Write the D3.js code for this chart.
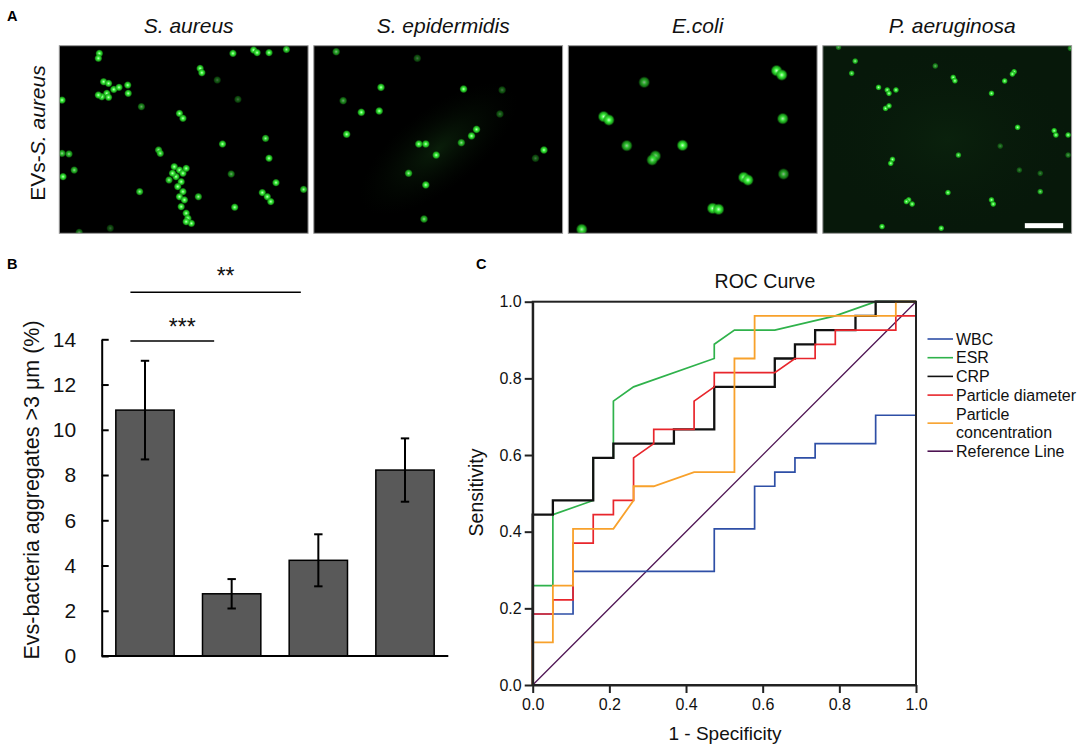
<!DOCTYPE html>
<html><head><meta charset="utf-8">
<script src="https://cdn.jsdelivr.net/npm/d3@7"></script>
<style>
body{margin:0;background:#fff}
svg{display:block;font-family:"Liberation Sans",Arial,Helvetica,sans-serif}
</style>
</head><body>
<svg id="c" width="1084" height="748"></svg>
<script>
// ---------------- DATA ----------------
// Panel A: fluorescence micrographs (dot positions in % of frame, intensity 0..1)
const species = ["S. aureus", "S. epidermidis", "E.coli", "P. aeruginosa"];
const dotsSAureus = [
  [16.1,4.1,1],[15.7,6.7,1],[69.8,4.1,1],[78.1,2.3,1],[79.5,3.7,1],[84.3,3.7,1],[91.3,2.0,0.9],
  [56.6,12.1,1],[57.3,14.4,1],[63.5,18.3,0.4],[17.8,19.2,1],[19.8,20.1,1],[21.9,23.3,1],[24.0,22.2,1],
  [19.1,25.4,1],[17.1,27.2,1],[15.7,26.3,1],[27.5,21.0,1],[27.7,25.4,1],[19.8,27.5,1],[1.1,29.0,1],
  [71.8,28.6,0.4],[33.0,32.5,0.6],[48.3,36.1,1],[49.7,38.7,1],[65.6,52.4,1],[82.9,49.4,0.9],
  [39.9,55.6,0.9],[40.6,57.4,0.9],[1.1,57.4,0.8],[3.9,57.7,0.8],[84.3,60.0,1],[1.5,69.8,1],[6.0,66.3,0.8],
  [69.1,68.4,0.6],[87.1,73.0,1],[98.2,76.6,0.9],[32.3,77.8,0.9],[81.6,78.3,1],[83.6,80.5,1],[85.0,83.1,1],
  [70.5,86.1,1],[55.9,80.5,0.9],[46.2,64.5,1],[48.3,66.3,1],[49.7,68.0,1],[51.0,65.4,1],[46.9,69.8,1],
  [49.0,72.5,1],[47.6,75.1,1],[49.7,77.8,1],[48.3,80.5,1],[50.3,82.2,1],[49.0,85.8,1],[51.0,89.3,1],
  [51.7,92.0,1],[53.1,94.7,1],[51.0,93.8,1],[44.1,71.6,0.9],[45.5,68.0,1],[20.5,97.3,0.35],[8.0,99.5,0.5]
];
const dotsSEpidermidis = [
  [9.0,3.2,0.7],[27.0,22.2,1],[19.1,35.5,1],[26.3,34.8,1],[11.8,29.3,0.6],[13.2,47.2,1],[60.2,23.1,1],
  [42.2,52.4,1],[45.0,52.4,1],[49.2,58.3,1],[38.1,68.0,0.9],[45.0,74.2,1],[44.3,92.4,0.8],[41.6,6.7,0.4],
  [59.3,51.7,0.8],[65.4,44.6,1],[63.4,48.1,1],[92.5,55.6,1],[75.7,23.6,0.4],[74.8,36.4,0.4],[89.1,60.0,0.4]
];
const dotsEColi = [
  [30.5,19.5,0.7],[83.7,13.3,1],[85.8,15.6,1],[14.2,37.8,1],[16.3,39.6,1],[86.2,38.9,0.9],[23.5,53.3,0.8],
  [45.9,53.1,1],[35.0,58.8,0.8],[33.7,60.9,0.8],[70.5,70.2,1],[72.2,71.6,1],[86.5,68.4,0.7],
  [58.0,86.7,1],[60.4,87.2,1],[5.4,97.9,0.9]
];
const dotsPAeruginosa = [
  [13.0,8.2,0.9],[11.6,14.7,0.9],[45.2,10.8,0.6],[22.4,22.2,1],[25.9,23.6,1],[26.6,25.4,1],[29.4,23.6,1],
  [25.2,33.4,1],[26.6,32.1,1],[52.4,16.9,1],[53.1,18.7,1],[76.9,13.9,1],[76.2,15.1,1],[73.1,18.8,1],
  [67.8,25.4,1],[78.3,43.5,1],[93.0,45.3,1],[93.7,47.6,1],[98.6,47.6,1],[98.6,58.3,0.5],[28.0,60.6,1],
  [27.3,62.7,1],[54.5,58.3,0.9],[71.3,53.5,0.4],[87.4,68.0,0.4],[79.0,66.3,0.4],[50.3,78.3,1],[87.4,77.8,0.8],
  [34.5,82.2,1],[35.9,84.4,1],[33.6,83.1,1],[67.8,82.2,1],[68.5,84.4,1],[23.8,96.4,1],[47.6,97.3,1],
  [6.3,0.8,0.6],[99.5,1.4,0.6]
];
const panelDots = [dotsSAureus, dotsSEpidermidis, dotsEColi, dotsPAeruginosa];
const rowLabel = ["EVs-", "S. aureus"];

// Panel B: bar chart
const barGroups = ["S. aureus", "S. epidermidis", "E.coli", "P. aeruginosa"];
const barValues = [10.87, 2.75, 4.23, 8.22];
const barSD = [2.18, 0.65, 1.15, 1.40];
const yTicksB = [0, 2, 4, 6, 8, 10, 12, 14];
const sigPairs = [[0, 1, "***"], [0, 2, "**"]];

// Panel C: ROC curves (counts: false positives out of 19, true positives out of 27)
const nNeg = 19, nPos = 27;
const rocNames = ["WBC", "ESR", "CRP", "Particle diameter", "Particle concentration", "Reference Line"];
const rocWBC = [[0,0],[0,5],[2,5],[2,8],[9,8],[9,11],[11,11],[11,14],[12,14],[12,15],[13,15],[13,16],[14,16],[14,17],[17,17],[17,19],[19,19],[19,27]];
const rocESR = [[0,0],[0,7],[1,7],[1,12],[3,13],[3,16],[4,16],[4,20],[5,21],[9,23],[9,24],[10,25],[12,25],[15,26],[17,27],[19,27]];
const rocCRP = [[0,0],[0,12],[1,12],[1,13],[3,13],[3,16],[4,16],[4,17],[7,17],[7,18],[9,18],[9,21],[12,21],[12,23],[13,23],[13,24],[14,24],[14,25],[16,25],[16,26],[17,26],[17,27],[19,27]];
const rocDiameter = [[0,0],[0,5],[1,5],[1,6],[2,6],[2,10],[3,10],[3,12],[4,12],[4,13],[5,13],[5,16],[6,17],[6,18],[8,18],[8,20],[9,21],[9,22],[12,22],[13,23],[14,23],[14,24],[15,24],[15,25],[18,25],[18,26],[19,26],[19,27]];
const rocConcentration = [[0,0],[0,3],[1,3],[1,7],[2,7],[2,11],[4,11],[5,13],[5,14],[6,14],[8,15],[10,15],[10,23],[11,23],[11,26],[18,26],[18,27],[19,27]];
const rocReference = [[0,0],[19,27]];
const rocTicks = [0, 0.2, 0.4, 0.6, 0.8, 1.0];

// ---------------- DRAW ----------------
const svg = d3.select("#c");
const FONT = '"Liberation Sans",Arial,Helvetica,sans-serif';
const defs = svg.append("defs");
const grad = defs.append("radialGradient").attr("id", "glow");
grad.append("stop").attr("offset", "0%").attr("stop-color", "#c8ffc8");
grad.append("stop").attr("offset", "35%").attr("stop-color", "#3cf03c");
grad.append("stop").attr("offset", "70%").attr("stop-color", "#1fb41f").attr("stop-opacity", 0.85);
grad.append("stop").attr("offset", "100%").attr("stop-color", "#0a500a").attr("stop-opacity", 0);
const haze = defs.append("radialGradient").attr("id", "haze");
haze.append("stop").attr("offset", "0%").attr("stop-color", "#1c5a1c").attr("stop-opacity", 0.55);
haze.append("stop").attr("offset", "100%").attr("stop-color", "#0a200a").attr("stop-opacity", 0);

// ----- Panel A -----
const imgTop = 45.7, imgH = 187.6;
const xPanel = d3.scaleBand().domain(species).range([59.3, 1071.6]).paddingInner(0.0225);
const bw = xPanel.bandwidth();
const dotR = [3.0, 3.1, 4.4, 2.4];
const bgCol = ["#000", "#000", "#000", "#07180a"];

svg.append("text").attr("x", 7).attr("y", 20.5).attr("font-weight", "bold")
  .attr("font-size", 14.5).text("A");

species.forEach((sp, i) => {
  const x0 = xPanel(sp);
  const g = svg.append("g").attr("transform", `translate(${x0},${imgTop})`);
  const sx = d3.scaleLinear().domain([0, 100]).range([0, bw]);
  const sy = d3.scaleLinear().domain([0, 100]).range([0, imgH]);
  const clipId = "clip" + i;
  defs.append("clipPath").attr("id", clipId).append("rect").attr("width", bw).attr("height", imgH);
  g.append("rect").attr("width", bw).attr("height", imgH).attr("fill", bgCol[i]);
  const inner = g.append("g").attr("clip-path", `url(#${clipId})`);
  if (i === 1) {
    inner.append("ellipse").attr("cx", sx(50)).attr("cy", sy(55)).attr("rx", 95).attr("ry", 40)
      .attr("transform", `rotate(-38 ${sx(50)} ${sy(55)})`).attr("fill", "url(#haze)").attr("opacity", 0.6);
  }
  if (i === 3) {
    inner.append("rect").attr("width", bw).attr("height", imgH).attr("fill", "url(#haze)").attr("opacity", 0.25);
  }
  inner.selectAll("circle").data(panelDots[i]).join("circle")
    .attr("cx", d => sx(d[0])).attr("cy", d => sy(d[1]))
    .attr("r", dotR[i] * 1.4)
    .attr("fill", "url(#glow)")
    .attr("opacity", d => d[2]);
  g.append("rect").attr("width", bw).attr("height", imgH).attr("fill", "none")
    .attr("stroke", "#9a9a9a").attr("stroke-width", 1);
  svg.append("text").attr("x", x0 + bw / 2 + 5).attr("y", 33)
    .attr("text-anchor", "middle").attr("font-style", "italic").attr("font-size", 21)
    .attr("fill", "#111").text(sp);
  if (i === 3) {
    g.append("rect").attr("x", sx(81.2)).attr("y", sy(94.6)).attr("width", sx(15.4)).attr("height", 5).attr("fill", "#fff");
  }
});
const rl = svg.append("text").attr("transform", "translate(45,133) rotate(-90)")
  .attr("text-anchor", "middle").attr("font-size", 21).attr("fill", "#111");
rl.append("tspan").text(rowLabel[0]);
rl.append("tspan").attr("font-style", "italic").text(rowLabel[1]);

// ----- Panel B -----
svg.append("text").attr("x", 7).attr("y", 269).attr("font-weight", "bold").attr("font-size", 14.5).text("B");
const xB = d3.scaleBand().domain(barGroups).range([101.7, 448.3]).paddingInner(0.327).paddingOuter(0.163);
const yB = d3.scaleLinear().domain([0, 14]).range([656, 339.3]);
const gB = svg.append("g");
gB.selectAll("rect.bar").data(barValues).join("rect").attr("class", "bar")
  .attr("x", (d, i) => xB(barGroups[i])).attr("width", xB.bandwidth())
  .attr("y", d => yB(d)).attr("height", d => yB(0) - yB(d))
  .attr("fill", "#595959").attr("stroke", "#000").attr("stroke-width", 1.5);
const cap = 4.2;
barValues.forEach((v, i) => {
  const cx = xB(barGroups[i]) + xB.bandwidth() / 2;
  const hi = yB(v + barSD[i]), lo = yB(v - barSD[i]);
  gB.append("line").attr("x1", cx).attr("x2", cx).attr("y1", hi).attr("y2", lo).attr("stroke", "#000").attr("stroke-width", 2);
  gB.append("line").attr("x1", cx - cap).attr("x2", cx + cap).attr("y1", hi).attr("y2", hi).attr("stroke", "#000").attr("stroke-width", 2);
  gB.append("line").attr("x1", cx - cap).attr("x2", cx + cap).attr("y1", lo).attr("y2", lo).attr("stroke", "#000").attr("stroke-width", 2);
});
const axB = gB.append("g").attr("transform", "translate(101.7,0)")
  .call(d3.axisLeft(yB).tickValues(yTicksB).tickSizeInner(-7).tickSizeOuter(0).tickPadding(25.5));
axB.select(".domain").attr("stroke", "#000").attr("stroke-width", 2);
axB.selectAll(".tick line").attr("stroke", "#000").attr("stroke-width", 2);
axB.selectAll(".tick text").attr("font-size", 21).attr("font-family", FONT).attr("fill", "#111");
gB.append("line").attr("x1", 101.7).attr("x2", 448.3).attr("y1", yB(0)).attr("y2", yB(0)).attr("stroke", "#000").attr("stroke-width", 2);
svg.append("text").attr("transform", "translate(39,490) rotate(-90)").attr("text-anchor", "middle")
  .attr("font-size", 21.5).attr("fill", "#111").text("Evs-bacteria aggregates >3 μm (%)");
const sigY = [341, 292.3], sigTextY = [335, 284];
sigPairs.forEach((p, k) => {
  const xl = xB(barGroups[p[0]]) + xB.bandwidth() * 0.25;
  const xr = xB(barGroups[p[1]]) + xB.bandwidth() * 0.2;
  gB.append("line").attr("x1", xl).attr("x2", xr).attr("y1", sigY[k]).attr("y2", sigY[k]).attr("stroke", "#000").attr("stroke-width", 1.6);
  gB.append("text").attr("x", (xl + xr) / 2 + 10).attr("y", sigTextY[k]).attr("text-anchor", "middle")
    .attr("font-size", 23).attr("fill", "#111").text(p[2]);
});

// ----- Panel C -----
svg.append("text").attr("x", 476).attr("y", 269).attr("font-weight", "bold").attr("font-size", 14.5).text("C");
const xC = d3.scaleLinear().domain([0, 1]).range([532.7, 916]);
const yC = d3.scaleLinear().domain([0, 1]).range([685, 301.7]);
const rocData = [rocWBC, rocESR, rocCRP, rocDiameter, rocConcentration, rocReference];
const rocColors = ["#2e4fa6", "#2fb24b", "#111111", "#e8262c", "#f8a12b", "#4d1352"];
const rocWidths = [1.7, 1.7, 2.3, 1.7, 1.8, 1.3];
const lineC = d3.line().x(d => xC(d[0] / nNeg)).y(d => yC(d[1] / nPos));
const gC = svg.append("g");
const order = [5, 0, 1, 2, 3, 4];
order.forEach(i => {
  gC.append("path").datum(rocData[i]).attr("d", lineC).attr("fill", "none")
    .attr("stroke", rocColors[i]).attr("stroke-width", rocWidths[i]).attr("stroke-linejoin", "miter");
});
// frame
gC.append("rect").attr("x", xC(0)).attr("y", yC(1)).attr("width", xC(1) - xC(0)).attr("height", yC(0) - yC(1))
  .attr("fill", "none").attr("stroke", "#222").attr("stroke-width", 2);
const axCx = gC.append("g").attr("transform", `translate(0,${yC(0)})`)
  .call(d3.axisBottom(xC).tickValues(rocTicks).tickFormat(d3.format(".1f")).tickSizeInner(8).tickSizeOuter(0).tickPadding(6));
const axCy = gC.append("g").attr("transform", `translate(${xC(0)},0)`)
  .call(d3.axisLeft(yC).tickValues(rocTicks).tickFormat(d3.format(".1f")).tickSizeInner(8).tickSizeOuter(0).tickPadding(3));
[axCx, axCy].forEach(a => {
  a.select(".domain").attr("stroke", "#222").attr("stroke-width", 2);
  a.selectAll(".tick line").attr("stroke", "#222").attr("stroke-width", 2);
  a.selectAll(".tick text").attr("font-size", 16).attr("font-family", FONT).attr("fill", "#111");
});
svg.append("text").attr("x", 765).attr("y", 288).attr("text-anchor", "middle").attr("font-size", 19.5).attr("fill", "#111").text("ROC Curve");
svg.append("text").attr("x", 725).attr("y", 740).attr("text-anchor", "middle").attr("font-size", 19).attr("fill", "#111").text("1 - Specificity");
svg.append("text").attr("transform", "translate(483,492.5) rotate(-90)").attr("text-anchor", "middle").attr("font-size", 19.5).attr("fill", "#111").text("Sensitivity");

// legend
const legRows = [0, 1, 2, 3, 4.5, 6];
const legY = d3.scaleLinear().domain([0, 6]).range([339, 451.2]);
rocNames.forEach((name, i) => {
  const y = legY(legRows[i]);
  svg.append("line").attr("x1", 927.5).attr("x2", 953).attr("y1", y).attr("y2", y)
    .attr("stroke", rocColors[i]).attr("stroke-width", 1.6);
  const parts = i === 4 ? ["Particle", "concentration"] : [name];
  parts.forEach((t, j) => {
    const ty = parts.length === 1 ? y : legY(legRows[i] - 0.5 + j);
    svg.append("text").attr("x", 956).attr("y", ty).attr("dy", "0.36em").attr("font-size", 16).attr("fill", "#111").text(t);
  });
});
</script>
</body></html>
